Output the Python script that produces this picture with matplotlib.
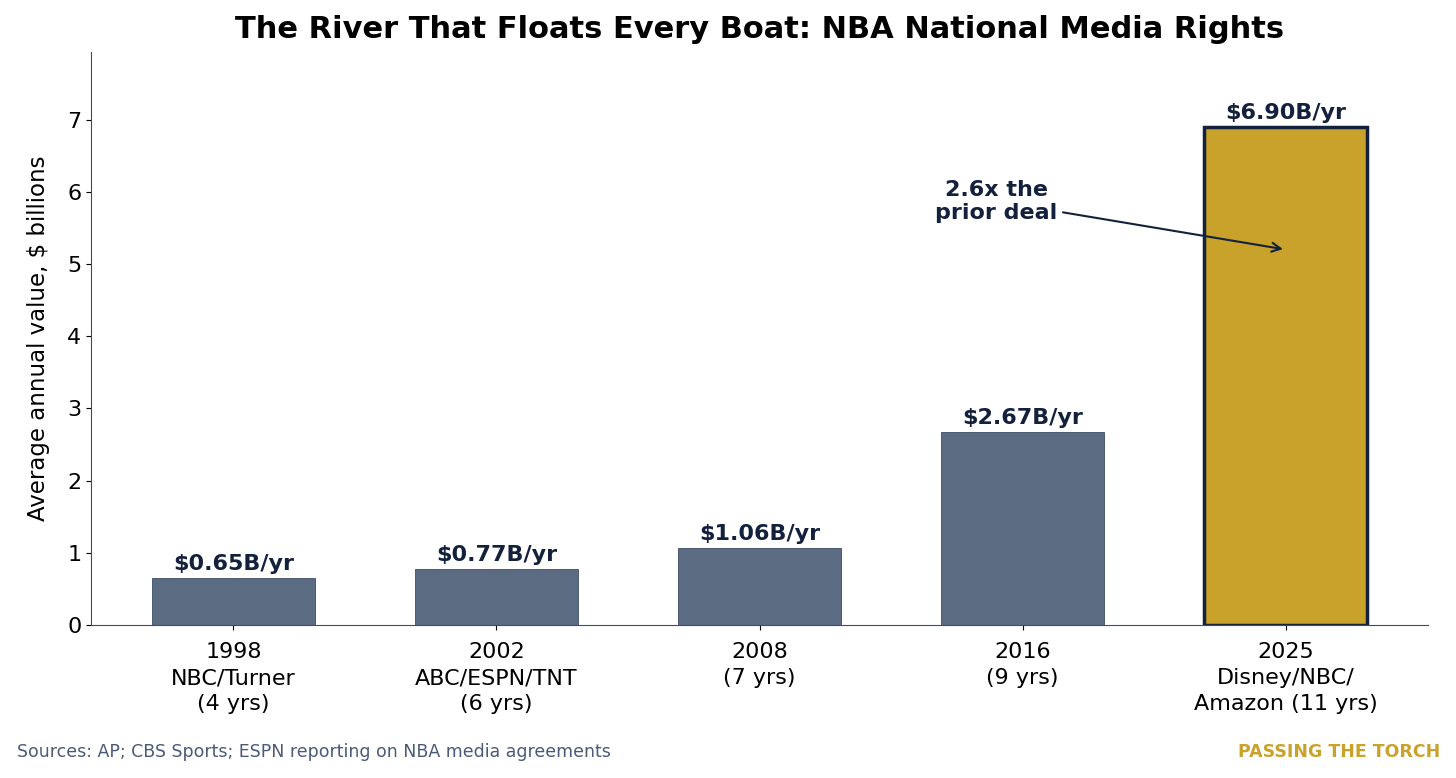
import numpy as np
import matplotlib
matplotlib.use("Agg")
import matplotlib.pyplot as plt

# data
years = ["1998", "2002", "2008", "2016", "2025"]
partners = ["NBC/Turner\n(4 yrs)", "ABC/ESPN/TNT\n(6 yrs)", "(7 yrs)", "(9 yrs)", "Disney/NBC/\nAmazon (11 yrs)"]
values = [0.65, 0.77, 1.06, 2.67, 6.90]

navy = "#14213D"
slate = "#5B6B82"
gold = "#C9A22B"

fig = plt.figure(figsize=[14.56, 7.78], dpi=100)
ax = fig.add_axes([0.0625, 0.1967, 0.9183, 0.7363])

x = np.arange(len(values))
colors = [slate] * (len(values) - 1) + [gold]
edges = ["#3E4C63"] * (len(values) - 1) + [navy]
lws = [0.6] * (len(values) - 1) + [2.5]
ax.bar(x, values, width=0.62, color=colors, edgecolor=edges, linewidth=lws)

for xi, v in zip(x, values):
    ax.text(xi, v + 0.06, "$%.2fB/yr" % v, ha="center", va="bottom",
            fontsize=16, fontweight="bold", color=navy)

ax.set_xticks(x)
ax.set_xticklabels([y + "\n" + p for y, p in zip(years, partners)], fontsize=16,
                   linespacing=1.38)
ax.tick_params(axis="x", pad=9)
ax.set_ylim(0, 6.9 * 1.15)
ax.set_yticks(range(0, 8))
ax.tick_params(axis="y", labelsize=16)
ax.set_ylabel("Average annual value, $ billions", fontsize=16.5, labelpad=12)

for s in ["top", "right"]:
    ax.spines[s].set_visible(False)
for s in ["left", "bottom"]:
    ax.spines[s].set_color("#3E4C63")

ax.annotate("2.6x the\nprior deal", xy=(4.0, 5.2), xytext=(2.9, 5.87),
            ha="center", va="center", fontsize=16, fontweight="bold", color=navy,
            arrowprops=dict(arrowstyle="->", color=navy, lw=1.5))

ax.set_title("The River That Floats Every Boat: NBA National Media Rights",
             fontsize=22, fontweight="bold", pad=10)

fig.text(0.012, 0.033, "Sources: AP; CBS Sports; ESPN reporting on NBA media agreements",
         fontsize=12.5, color="#4A5A78", ha="left", va="center")
fig.text(0.989, 0.033, "PASSING THE TORCH", fontsize=12.5, fontweight="bold",
         color=gold, ha="right", va="center")

fig.savefig("out.png", dpi=100)
